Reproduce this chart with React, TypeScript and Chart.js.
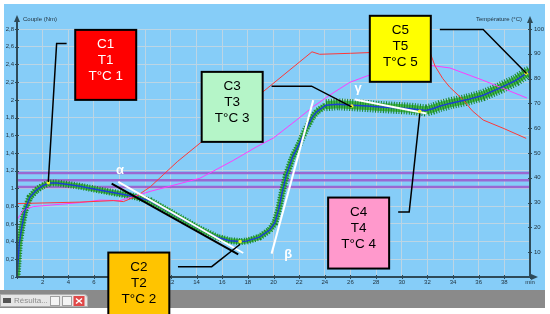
import { useEffect, useRef } from 'react';
import { Chart, registerables } from 'chart.js';

Chart.register(...registerables);

// ---- data ----
const torqueTime = [0, 0.18, 0.37, 0.62, 1.0, 1.5, 2.0, 2.5, 3.1, 4.0, 4.9, 6.5, 8.0, 9.1, 10.4, 11.5, 12.7, 14.3, 15.6, 16.6, 17.4, 17.9, 18.9, 19.7, 20.1, 20.4, 20.7, 21.0, 21.5, 22.0, 22.5, 23.0, 23.4, 24.1, 25.0, 26.2, 27.3, 28.3, 29.5, 30.7, 31.9, 32.4, 33.0, 33.75, 35.05, 36.3, 37.6, 38.9, 39.7, 40.0];
const torqueValue = [0, 0.38, 0.56, 0.75, 0.9, 0.98, 1.03, 1.06, 1.06, 1.045, 1.025, 0.98, 0.94, 0.91, 0.86, 0.77, 0.67, 0.54, 0.45, 0.41, 0.4, 0.405, 0.45, 0.53, 0.61, 0.76, 0.97, 1.15, 1.36, 1.5, 1.66, 1.8, 1.87, 1.94, 1.95, 1.94, 1.93, 1.92, 1.91, 1.9, 1.88, 1.9, 1.93, 1.96, 2.0, 2.05, 2.13, 2.22, 2.3, 2.32];

const setTempTime = [0, 4.9, 7.5, 8.3, 9.3, 10.4, 11.4, 12.5, 23.0, 23.6, 26.0, 28.0, 30.0, 32.2, 32.6, 33.2, 33.75, 34.8, 35.5, 36.35, 37.9, 39.7];
const setTempValue = [29.6, 30.2, 30.8, 30.4, 32.5, 36.4, 41.2, 46.5, 90.8, 89.8, 90.2, 90.6, 90.5, 90.6, 85, 80, 76.5, 71.4, 67, 63.3, 60, 55.9];

const sampleTempTime = [0, 0.49, 1.27, 4.9, 6.47, 8.03, 10.37, 14.26, 16.86, 18.68, 19.98, 21.8, 23.1, 24.4, 25.95, 27.26, 29.3, 31.96, 33.75, 36.3, 39.75];
const sampleTempValue = [23, 27, 28.4, 30, 31, 30.8, 34.5, 39.8, 47, 52.5, 56, 63.3, 68.7, 73.4, 78.5, 81, 84.3, 85.5, 84.3, 79.4, 72.2];

const refLevels = [1.175, 1.093, 1.017];

const markerTime = [2.44, 17.4, 26.1, 31.4, 39.7];
const markerValue = [1.065, 0.4, 1.93, 1.87, 2.3];

const alphaBlackTime = [7.38, 17.25];
const alphaBlackValue = [1.055, 0.256];
const alphaWhiteTime = [7.9, 17.64];
const alphaWhiteValue = [1.073, 0.271];
const betaTime = [19.85, 23.1];
const betaValue = [0.264, 1.997];
const gammaTime = [26.34, 31.93];
const gammaValue = [2.005, 1.846];

const callouts = [
  { lines: ['C1', 'T1', 'T°C 1'], at: [4.54, 2.79], h: 70, leader: [[3.87, 2.637], [3.09, 2.637], [2.44, 1.073]], fill: '#ff0000', ink: '#ffffff' },
  { lines: ['C2', 'T2', 'T°C 2'], at: [7.12, 0.276], h: 90, leader: [[12.55, 0.117], [15.18, 0.117], [17.4, 0.37]], fill: '#ffc400', ink: '#000000' },
  { lines: ['C3', 'T3', 'T°C 3'], at: [14.4, 2.316], h: 70, leader: [[19.85, 2.155], [22.97, 2.155], [26.09, 1.921]], fill: '#b5f5c8', ink: '#000000' },
  { lines: ['C4', 'T4', 'T°C 4'], at: [24.26, 0.897], h: 71, leader: [[29.72, 0.734], [30.58, 0.734], [31.41, 1.846]], fill: '#ff99cc', ink: '#000000' },
  { lines: ['C5', 'T5', 'T°C 5'], at: [27.51, 2.949], h: 66, leader: [[32.97, 2.795], [36.35, 2.795], [39.73, 2.298]], fill: '#ffff00', ink: '#000000' },
];

const greekLabels = [
  { ch: 'α', at: [8.03, 1.198] },
  { ch: 'β', at: [21.15, 0.256] },
  { ch: 'γ', at: [26.6, 2.13] },
];

const FONT = "'Liberation Sans', Arial, sans-serif";
const AXIS = '#2e4a58';
const GRID = '#bcd5e4';

const pts = (t: number[], v: number[]) => t.map((x, i) => ({ x, y: v[i] }));

const decor = {
  id: 'decor',
  beforeDraw(chart: any) {
    const { ctx, width, height } = chart;
    ctx.save();
    ctx.fillStyle = '#ffffff';
    ctx.fillRect(0, 0, width, height);
    ctx.fillStyle = '#86cdf8';
    ctx.fillRect(4, 4, 541, 286);
    ctx.fillStyle = '#8a8a8a';
    ctx.fillRect(0, 290, 545, 18);
    ctx.restore();
  },
  afterDatasetsDraw(chart: any) {
    const { ctx, chartArea } = chart;
    const xs = chart.scales.x;
    const ys = chart.scales.y;
    const y1 = chart.scales.y1;
    const L = chartArea.left, R = chartArea.right, B = chartArea.bottom;
    ctx.save();
    // axes
    ctx.strokeStyle = AXIS;
    ctx.fillStyle = AXIS;
    ctx.lineWidth = 2;
    ctx.beginPath();
    ctx.moveTo(L, B); ctx.lineTo(L, 21);
    ctx.moveTo(R, B); ctx.lineTo(R, 21);
    ctx.moveTo(L, B); ctx.lineTo(R + 2, B);
    ctx.stroke();
    const arrow = (p: number[][]) => { ctx.beginPath(); ctx.moveTo(p[0][0], p[0][1]); ctx.lineTo(p[1][0], p[1][1]); ctx.lineTo(p[2][0], p[2][1]); ctx.closePath(); ctx.fill(); };
    arrow([[L, 15], [L - 3, 22], [L + 3, 22]]);
    arrow([[R, 16], [R - 3, 23], [R + 3, 23]]);
    arrow([[R + 8, B], [R + 1, B - 3], [R + 1, B + 3]]);
    ctx.lineWidth = 1;
    ctx.beginPath();
    ys.ticks.forEach((t: any) => { const y = Math.round(ys.getPixelForValue(t.value)) + 0.5; ctx.moveTo(L - 2, y); ctx.lineTo(L + 2, y); });
    xs.ticks.forEach((t: any) => { const x = Math.round(xs.getPixelForValue(t.value)) + 0.5; ctx.moveTo(x, B - 2); ctx.lineTo(x, B + 2); });
    y1.ticks.forEach((t: any) => { const y = Math.round(y1.getPixelForValue(t.value)) + 0.5; ctx.moveTo(R - 2, y); ctx.lineTo(R + 2, y); });
    ctx.stroke();

    // axis titles
    ctx.fillStyle = '#1f2f3a';
    ctx.font = `6px ${FONT}`;
    ctx.textBaseline = 'middle';
    ctx.textAlign = 'left';
    ctx.fillText('Couple (Nm)', 23, 19);
    ctx.textAlign = 'right';
    ctx.fillText('Température (°C)', 522, 19);

    // greek labels
    ctx.fillStyle = '#ffffff';
    ctx.font = `bold 13px ${FONT}`;
    ctx.textAlign = 'center';
    greekLabels.forEach((g) => ctx.fillText(g.ch, xs.getPixelForValue(g.at[0]), ys.getPixelForValue(g.at[1])));

    // callouts
    callouts.forEach((c) => {
      ctx.strokeStyle = '#000000';
      ctx.lineWidth = 1.5;
      ctx.beginPath();
      c.leader.forEach((p, i) => {
        const px = xs.getPixelForValue(p[0]);
        const py = ys.getPixelForValue(p[1]);
        if (i === 0) ctx.moveTo(px, py); else ctx.lineTo(px, py);
      });
      ctx.stroke();
      const bx = xs.getPixelForValue(c.at[0]);
      const by = ys.getPixelForValue(c.at[1]);
      const bw = 61;
      ctx.fillStyle = c.fill;
      ctx.fillRect(bx, by, bw, c.h);
      ctx.lineWidth = 2;
      ctx.strokeRect(bx, by, bw, c.h);
      ctx.fillStyle = c.ink;
      ctx.font = `13.5px ${FONT}`;
      ctx.textAlign = 'center';
      ctx.textBaseline = 'middle';
      c.lines.forEach((s, i) => ctx.fillText(s, bx + bw / 2, by + 14.5 + i * 16));
    });

    // minimized window tab
    ctx.fillStyle = '#e6e6e6';
    ctx.strokeStyle = '#b0b0b0';
    ctx.lineWidth = 1;
    ctx.beginPath();
    ctx.moveTo(0.5, 306.5); ctx.lineTo(0.5, 294.5); ctx.lineTo(84, 294.5);
    ctx.quadraticCurveTo(87.5, 294.5, 87.5, 298); ctx.lineTo(87.5, 306.5); ctx.closePath();
    ctx.fill(); ctx.stroke();
    ctx.fillStyle = '#555555';
    ctx.fillRect(3, 298, 8, 5);
    ctx.fillStyle = '#8c8c8c';
    ctx.font = `8px ${FONT}`;
    ctx.textAlign = 'left';
    ctx.fillText('Résulta...', 14, 301);
    ctx.fillStyle = '#f4f4f4';
    ctx.strokeStyle = '#a0a0a0';
    ctx.fillRect(50.5, 296.5, 9, 9); ctx.strokeRect(50.5, 296.5, 9, 9);
    ctx.fillRect(62.5, 296.5, 9, 9); ctx.strokeRect(62.5, 296.5, 9, 9);
    ctx.fillStyle = '#e04848';
    ctx.fillRect(73.5, 296, 11, 10);
    ctx.strokeStyle = '#ffffff';
    ctx.lineWidth = 1.5;
    ctx.beginPath();
    ctx.moveTo(76, 298.5); ctx.lineTo(82, 303.5); ctx.moveTo(82, 298.5); ctx.lineTo(76, 303.5);
    ctx.stroke();
    ctx.restore();
  },
};

export default function App() {
  const ref = useRef<HTMLCanvasElement | null>(null);
  useEffect(() => {
    document.body.style.margin = '0';
    const canvas = ref.current;
    if (!canvas) return;
    const line = (data: any, color: string, width: number, order: number, axis = 'y', extra: any = {}) => ({
      type: 'line', data, borderColor: color, borderWidth: width, pointRadius: 0, fill: false, tension: 0, order, yAxisID: axis, ...extra,
    });
    const datasets: any[] = [
      ...refLevels.map((v) => line([{ x: 0, y: v }, { x: 40, y: v }], '#9a68d2', 2.5, 9)),
      line(pts(setTempTime, setTempValue), '#ff3838', 1, 5, 'y1'),
      line(pts(sampleTempTime, sampleTempValue), '#ff3cff', 1, 6, 'y1'),
      line(pts(torqueTime, torqueValue), '#45b945', 5, 8, 'y', { segment: { borderWidth: (c: any) => (c.p0.parsed.x >= 24 ? 8 : 5) } }),
      line(pts(torqueTime, torqueValue), '#16852c', 7, 7, 'y', { borderDash: [1, 1.6], borderCapStyle: 'butt', segment: { borderWidth: (c: any) => (c.p0.parsed.x >= 24 ? 12 : 7) } }),
      line(pts(torqueTime, torqueValue), '#1c3ed4', 1.5, 4),
      line(pts(alphaBlackTime, alphaBlackValue), '#000000', 2, 3),
      line(pts(alphaWhiteTime, alphaWhiteValue), '#ffffff', 2, 2),
      line(pts(betaTime, betaValue), '#ffffff', 2, 2),
      line(pts(gammaTime, gammaValue), '#ffffff', 2, 2),
      { type: 'scatter', data: pts(markerTime, markerValue), pointRadius: 1.8, pointBorderWidth: 0, pointBackgroundColor: '#f4f430', order: 1, yAxisID: 'y' },
    ];
    const tickFont = { size: 6, family: FONT };
    const chart = new Chart(canvas, {
      type: 'line',
      data: { datasets },
      plugins: [decor],
      options: {
        responsive: false,
        maintainAspectRatio: false,
        animation: false,
        devicePixelRatio: 1,
        layout: { padding: { top: 29, left: 0, right: 0, bottom: 0 } },
        plugins: { legend: { display: false }, tooltip: { enabled: false } },
        scales: {
          x: {
            type: 'linear', min: 0, max: 40, position: 'bottom',
            border: { display: false },
            grid: { color: GRID, lineWidth: 1, drawTicks: false },
            ticks: { count: 21, autoSkip: false, maxRotation: 0, padding: 2, color: '#1f2f3a', font: tickFont,
              callback: (v: any) => (v === 0 ? '' : v === 40 ? 'min' : String(Math.round(v))) },
            afterFit: (s: any) => { s.height = 37; },
          },
          y: {
            type: 'linear', min: 0, max: 2.8, position: 'left',
            border: { display: false },
            grid: { color: GRID, lineWidth: 1, drawTicks: false },
            ticks: { count: 15, padding: 3, color: '#1f2f3a', font: tickFont,
              callback: (v: any) => String(Number(Number(v).toFixed(1))).replace('.', ',') },
            afterFit: (s: any) => { s.width = 17; },
          },
          y1: {
            type: 'linear', min: 0, max: 100, position: 'right',
            border: { display: false },
            grid: { display: false, drawTicks: false },
            ticks: { count: 11, padding: 4, color: '#1f2f3a', font: tickFont,
              callback: (v: any) => (v === 0 ? '' : String(Math.round(v))) },
            afterFit: (s: any) => { s.width = 20; },
          },
        },
      } as any,
    } as any);
    return () => chart.destroy();
  }, []);
  return (
    <div style={{ position: 'fixed', left: 0, top: 0, width: 550, height: 314 }}>
      <canvas ref={ref} width={550} height={314} style={{ display: 'block' }} />
    </div>
  );
}
